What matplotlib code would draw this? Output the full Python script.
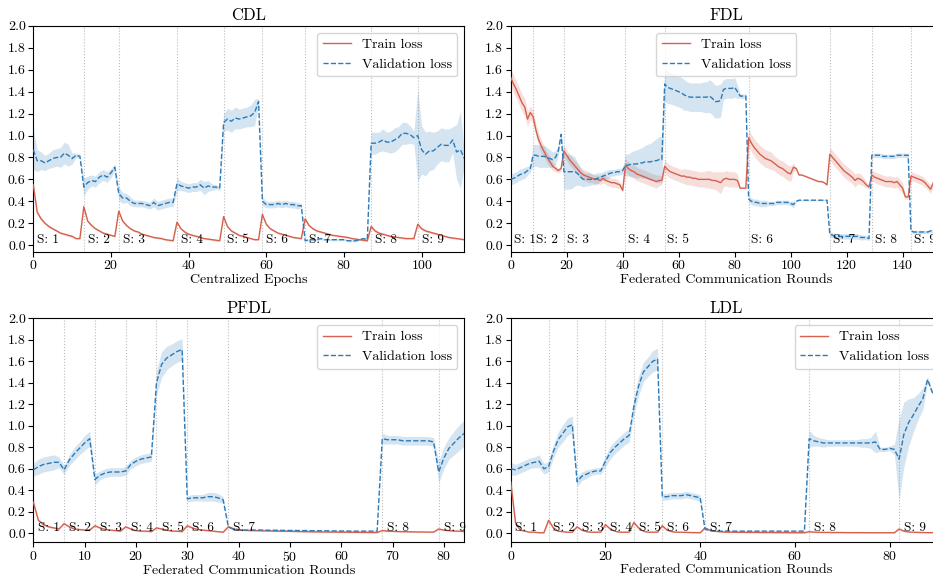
import numpy as np
import matplotlib
matplotlib.use("Agg")
import matplotlib.pyplot as plt

plt.rcParams['font.family'] = 'cmr10'
plt.rcParams['mathtext.fontset'] = 'cm'
plt.rcParams['axes.formatter.use_mathtext'] = True

TRAIN_C = '#d6604d'
VAL_C = '#2b7bba'

# ---------------- CDL ----------------
cdl_stages = [0, 13, 22, 37, 49, 59, 70, 87, 99]
cdl_train = [
    0.55, 0.30, 0.24, 0.20, 0.17, 0.15, 0.13, 0.11, 0.10, 0.09, 0.08, 0.06, 0.06,
    0.35, 0.22, 0.18, 0.15, 0.13, 0.11, 0.10, 0.09, 0.08,
    0.31, 0.22, 0.18, 0.15, 0.13, 0.12, 0.10, 0.09, 0.08, 0.07, 0.065, 0.06, 0.05, 0.045, 0.04,
    0.21, 0.15, 0.12, 0.10, 0.09, 0.08, 0.07, 0.06, 0.055, 0.05, 0.045, 0.04,
    0.26, 0.17, 0.13, 0.11, 0.09, 0.08, 0.07, 0.06, 0.05, 0.05,
    0.28, 0.19, 0.15, 0.13, 0.11, 0.10, 0.09, 0.08, 0.07, 0.065, 0.06,
    0.24, 0.18, 0.15, 0.13, 0.12, 0.11, 0.10, 0.09, 0.085, 0.08, 0.075, 0.07, 0.06, 0.055, 0.05, 0.045, 0.04,
    0.17, 0.13, 0.11, 0.10, 0.09, 0.08, 0.075, 0.07, 0.065, 0.06, 0.06, 0.06,
    0.19, 0.15, 0.13, 0.12, 0.11, 0.10, 0.09, 0.08, 0.07, 0.065, 0.06, 0.055, 0.05,
]
cdl_train_sd = [
    0.03, 0.02, 0.015, 0.01, 0.01, 0.01, 0.01, 0.01, 0.01, 0.01, 0.01, 0.008, 0.008,
    0.02, 0.015, 0.01, 0.01, 0.01, 0.01, 0.01, 0.008, 0.008,
    0.02, 0.015, 0.01, 0.01, 0.01, 0.01, 0.01, 0.01, 0.008, 0.008, 0.008, 0.008, 0.008, 0.008, 0.008,
    0.015, 0.01, 0.01, 0.01, 0.01, 0.008, 0.008, 0.008, 0.008, 0.008, 0.008, 0.008,
    0.015, 0.01, 0.01, 0.01, 0.008, 0.008, 0.008, 0.008, 0.008, 0.008,
    0.015, 0.012, 0.01, 0.01, 0.01, 0.01, 0.008, 0.008, 0.008, 0.008, 0.008,
    0.015, 0.012, 0.01, 0.01, 0.01, 0.01, 0.01, 0.008, 0.008, 0.008, 0.008, 0.008, 0.008, 0.008, 0.008, 0.008, 0.008,
    0.02, 0.015, 0.012, 0.01, 0.01, 0.01, 0.01, 0.008, 0.008, 0.008, 0.008, 0.008,
    0.02, 0.015, 0.012, 0.01, 0.01, 0.01, 0.01, 0.008, 0.008, 0.008, 0.008, 0.008, 0.008,
]
cdl_val = [
    0.87, 0.77, 0.77, 0.75, 0.77, 0.79, 0.80, 0.80, 0.84, 0.82, 0.79, 0.82, 0.81,
    0.53, 0.57, 0.59, 0.58, 0.62, 0.64, 0.62, 0.66, 0.71,
    0.47, 0.43, 0.43, 0.40, 0.38, 0.38, 0.38, 0.37, 0.36, 0.39, 0.36, 0.37, 0.38, 0.39, 0.39,
    0.56, 0.54, 0.53, 0.52, 0.53, 0.53, 0.55, 0.52, 0.54, 0.53, 0.53, 0.52,
    1.12, 1.15, 1.13, 1.16, 1.15, 1.16, 1.17, 1.18, 1.21, 1.31,
    0.40, 0.37, 0.37, 0.37, 0.38, 0.37, 0.38, 0.37, 0.37, 0.36, 0.36,
    0.04, 0.05, 0.05, 0.05, 0.06, 0.05, 0.05, 0.05, 0.05, 0.05, 0.05, 0.04, 0.04, 0.04, 0.05, 0.06, 0.05,
    0.93, 0.93, 0.94, 0.96, 0.94, 0.94, 0.96, 0.98, 1.02, 1.02, 1.01, 0.98,
    1.00, 0.87, 0.83, 0.86, 0.86, 0.89, 0.92, 0.91, 0.91, 0.96, 0.85, 0.87, 0.79,
]
cdl_val_sd = [
    0.18, 0.10, 0.08, 0.07, 0.07, 0.08, 0.08, 0.09, 0.10, 0.10, 0.05, 0.02, 0.02,
    0.08, 0.06, 0.05, 0.05, 0.05, 0.05, 0.05, 0.04, 0.03,
    0.06, 0.05, 0.04, 0.04, 0.03, 0.03, 0.03, 0.03, 0.03, 0.04, 0.04, 0.04, 0.04, 0.04, 0.04,
    0.06, 0.04, 0.04, 0.04, 0.04, 0.04, 0.05, 0.06, 0.05, 0.03, 0.02, 0.02,
    0.08, 0.10, 0.10, 0.10, 0.09, 0.09, 0.09, 0.10, 0.12, 0.03,
    0.04, 0.03, 0.03, 0.03, 0.03, 0.03, 0.03, 0.03, 0.03, 0.03, 0.02,
    0.01, 0.01, 0.01, 0.01, 0.01, 0.01, 0.01, 0.01, 0.01, 0.01, 0.01, 0.01, 0.01, 0.01, 0.01, 0.01, 0.01,
    0.10, 0.10, 0.09, 0.10, 0.09, 0.10, 0.11, 0.10, 0.10, 0.10, 0.08, 0.06,
    0.42, 0.22, 0.20, 0.18, 0.17, 0.15, 0.15, 0.15, 0.15, 0.12, 0.25, 0.35, 0.05,
]

# ---------------- FDL ----------------
fdl_stages = [0, 8, 19, 41, 55, 85, 114, 129, 143]
fdl_train = [
    1.53, 1.47, 1.42, 1.36, 1.30, 1.26, 1.15, 1.21,
    1.17, 1.05, 0.96, 0.90, 0.85, 0.80, 0.76, 0.72, 0.70, 0.68, 0.70,
    0.86, 0.82, 0.78, 0.75, 0.72, 0.69, 0.66, 0.64, 0.63, 0.62, 0.61, 0.60, 0.60, 0.59, 0.61, 0.59,
    0.58, 0.57, 0.57, 0.56, 0.55, 0.50,
    0.73, 0.70, 0.68, 0.67, 0.65, 0.64, 0.63, 0.62, 0.61, 0.60, 0.59, 0.58, 0.59, 0.59,
    0.72, 0.69, 0.67, 0.66, 0.65, 0.64, 0.63, 0.63, 0.62, 0.62, 0.61, 0.61, 0.60, 0.60, 0.60,
    0.60, 0.60, 0.59, 0.59, 0.58, 0.57, 0.60, 0.61, 0.60, 0.60, 0.60, 0.59, 0.52, 0.52, 0.52,
    0.98, 0.93, 0.89, 0.86, 0.83, 0.81, 0.79, 0.78, 0.77, 0.75, 0.73, 0.71, 0.70, 0.68, 0.66,
    0.65, 0.71, 0.70, 0.64, 0.64, 0.63, 0.62, 0.61, 0.60, 0.59, 0.58, 0.58, 0.57, 0.55,
    0.83, 0.80, 0.77, 0.74, 0.71, 0.68, 0.66, 0.64, 0.62, 0.59, 0.61, 0.60, 0.58, 0.55, 0.53,
    0.64, 0.62, 0.61, 0.60, 0.59, 0.58, 0.58, 0.58, 0.57, 0.58, 0.55, 0.52, 0.44, 0.44,
    0.63, 0.62, 0.61, 0.60, 0.59, 0.57, 0.54, 0.51, 0.57, 0.60, 0.61, 0.62,
]
fdl_train_sd = [
    0.08, 0.08, 0.08, 0.08, 0.08, 0.08, 0.07, 0.06,
    0.06, 0.06, 0.06, 0.06, 0.05, 0.05, 0.05, 0.04, 0.03, 0.02, 0.02,
    0.05, 0.05, 0.05, 0.05, 0.05, 0.05, 0.05, 0.05, 0.05, 0.05, 0.04, 0.04, 0.04, 0.04, 0.04, 0.04,
    0.04, 0.04, 0.04, 0.04, 0.03, 0.02,
    0.06, 0.06, 0.06, 0.06, 0.06, 0.06, 0.06, 0.06, 0.06, 0.06, 0.06, 0.06, 0.05, 0.04,
    0.06, 0.06, 0.06, 0.06, 0.06, 0.06, 0.06, 0.07, 0.07, 0.07, 0.07, 0.07, 0.07, 0.07, 0.07,
    0.08, 0.08, 0.08, 0.08, 0.09, 0.10, 0.07, 0.07, 0.07, 0.07, 0.07, 0.06, 0.005, 0.005, 0.005,
    0.08, 0.08, 0.08, 0.08, 0.08, 0.08, 0.08, 0.08, 0.08, 0.07, 0.07, 0.07, 0.07, 0.07, 0.07,
    0.07, 0.04, 0.005, 0.005, 0.005, 0.005, 0.005, 0.005, 0.005, 0.005, 0.005, 0.005, 0.005, 0.005,
    0.06, 0.06, 0.06, 0.06, 0.06, 0.06, 0.06, 0.06, 0.06, 0.06, 0.05, 0.05, 0.04, 0.03, 0.02,
    0.05, 0.05, 0.05, 0.05, 0.05, 0.05, 0.05, 0.05, 0.05, 0.05, 0.05, 0.05, 0.02, 0.02,
    0.04, 0.04, 0.04, 0.04, 0.04, 0.04, 0.04, 0.04, 0.04, 0.04, 0.04, 0.04,
]
fdl_val = [
    0.60, 0.61, 0.62, 0.64, 0.65, 0.66, 0.68, 0.70,
    0.82, 0.82, 0.81, 0.81, 0.81, 0.80, 0.79, 0.78, 0.80, 0.86, 1.01,
    0.67, 0.67, 0.67, 0.67, 0.67, 0.65, 0.62, 0.60, 0.60, 0.60, 0.60, 0.60, 0.61, 0.62, 0.63, 0.64,
    0.65, 0.66, 0.66, 0.67, 0.67, 0.68,
    0.73, 0.73, 0.74, 0.74, 0.74, 0.75, 0.75, 0.76, 0.76, 0.76, 0.77, 0.77, 0.78, 0.78,
    1.47, 1.44, 1.43, 1.42, 1.41, 1.40, 1.39, 1.37, 1.36, 1.35, 1.35, 1.35, 1.35, 1.35, 1.35,
    1.35, 1.36, 1.34, 1.31, 1.31, 1.32, 1.42, 1.43, 1.43, 1.43, 1.44, 1.40, 1.36, 1.36, 1.36,
    0.42, 0.40, 0.39, 0.39, 0.38, 0.38, 0.38, 0.38, 0.38, 0.38, 0.39, 0.39, 0.39, 0.39, 0.39,
    0.38, 0.37, 0.40, 0.41, 0.41, 0.41, 0.41, 0.41, 0.41, 0.41, 0.41, 0.41, 0.41, 0.41,
    0.10, 0.09, 0.08, 0.08, 0.08, 0.08, 0.08, 0.08, 0.08, 0.08, 0.08, 0.07, 0.07, 0.07, 0.06,
    0.82, 0.82, 0.82, 0.82, 0.81, 0.81, 0.81, 0.81, 0.81, 0.82, 0.82, 0.82, 0.82, 0.82,
    0.13, 0.12, 0.12, 0.12, 0.12, 0.12, 0.12, 0.13, 0.13, 0.14, 0.14, 0.14,
]
fdl_val_sd = [
    0.05, 0.05, 0.05, 0.05, 0.05, 0.05, 0.04, 0.03,
    0.10, 0.10, 0.10, 0.10, 0.10, 0.09, 0.08, 0.07, 0.06, 0.04, 0.02,
    0.16, 0.16, 0.16, 0.15, 0.13, 0.10, 0.08, 0.07, 0.06, 0.06, 0.05, 0.05, 0.05, 0.04, 0.04, 0.04,
    0.04, 0.03, 0.03, 0.03, 0.03, 0.03,
    0.10, 0.10, 0.11, 0.12, 0.13, 0.13, 0.14, 0.15, 0.16, 0.17, 0.18, 0.20, 0.21, 0.21,
    0.15, 0.15, 0.14, 0.14, 0.14, 0.14, 0.14, 0.14, 0.13, 0.13, 0.13, 0.13, 0.13, 0.13, 0.14,
    0.14, 0.15, 0.15, 0.15, 0.15, 0.15, 0.09, 0.09, 0.09, 0.09, 0.09, 0.06, 0.02, 0.02, 0.02,
    0.03, 0.03, 0.03, 0.03, 0.03, 0.03, 0.03, 0.02, 0.02, 0.02, 0.02, 0.02, 0.02, 0.02, 0.02,
    0.02, 0.03, 0.005, 0.005, 0.005, 0.005, 0.005, 0.005, 0.005, 0.005, 0.005, 0.005, 0.005, 0.005,
    0.025, 0.025, 0.025, 0.025, 0.025, 0.025, 0.025, 0.025, 0.025, 0.025, 0.025, 0.025, 0.02, 0.02, 0.02,
    0.02, 0.02, 0.02, 0.02, 0.02, 0.02, 0.02, 0.02, 0.02, 0.02, 0.02, 0.02, 0.02, 0.02,
    0.015, 0.015, 0.015, 0.015, 0.015, 0.015, 0.015, 0.015, 0.015, 0.015, 0.015, 0.015,
]

# ---------------- PFDL ----------------
pfdl_stages = [0, 6, 12, 18, 24, 30, 38, 68, 79]
pfdl_train = [
    0.29, 0.12, 0.08, 0.06, 0.05, 0.04,
    0.09, 0.06, 0.04, 0.035, 0.03, 0.03,
    0.07, 0.05, 0.035, 0.03, 0.025, 0.02,
    0.06, 0.04, 0.025, 0.02, 0.02, 0.015,
    0.05, 0.04, 0.03, 0.02, 0.02, 0.015,
    0.07, 0.05, 0.035, 0.03, 0.025, 0.02, 0.015, 0.01,
    0.06, 0.04, 0.03, 0.028, 0.026, 0.025, 0.024, 0.022, 0.022, 0.02, 0.02, 0.019, 0.018, 0.017, 0.016,
    0.015, 0.014, 0.013, 0.012, 0.012, 0.011, 0.011, 0.01, 0.01, 0.009, 0.009, 0.008, 0.008, 0.007, 0.007,
    0.025, 0.02, 0.018, 0.016, 0.015, 0.014, 0.013, 0.012, 0.012, 0.011, 0.011,
    0.04, 0.03, 0.025, 0.02, 0.02, 0.015,
]
pfdl_train_sd = [
    0.03, 0.015, 0.01, 0.01, 0.01, 0.01,
    0.01, 0.01, 0.008, 0.008, 0.008, 0.008,
    0.01, 0.008, 0.008, 0.006, 0.006, 0.006,
    0.01, 0.008, 0.006, 0.006, 0.006, 0.006,
    0.01, 0.008, 0.006, 0.006, 0.006, 0.006,
    0.01, 0.008, 0.006, 0.006, 0.006, 0.006, 0.005, 0.005,
    0.01, 0.008, 0.006, 0.005, 0.005, 0.005, 0.005, 0.005, 0.005, 0.005, 0.005, 0.005, 0.005, 0.005, 0.005,
    0.005, 0.005, 0.005, 0.005, 0.005, 0.005, 0.005, 0.005, 0.005, 0.005, 0.005, 0.005, 0.005, 0.005, 0.005,
    0.008, 0.006, 0.005, 0.005, 0.005, 0.005, 0.005, 0.005, 0.005, 0.005, 0.005,
    0.01, 0.008, 0.006, 0.005, 0.005, 0.005,
]
pfdl_val = [
    0.59, 0.62, 0.64, 0.65, 0.66, 0.66,
    0.59, 0.68, 0.74, 0.79, 0.84, 0.88,
    0.50, 0.54, 0.56, 0.57, 0.57, 0.57,
    0.58, 0.64, 0.67, 0.69, 0.70, 0.71,
    1.40, 1.57, 1.63, 1.66, 1.69, 1.71,
    0.32, 0.33, 0.33, 0.33, 0.34, 0.34, 0.33, 0.31,
    0.06, 0.04, 0.035, 0.03, 0.03, 0.03, 0.03, 0.03, 0.028, 0.028, 0.027, 0.027, 0.026, 0.026, 0.025,
    0.025, 0.024, 0.024, 0.023, 0.023, 0.022, 0.022, 0.021, 0.021, 0.02, 0.02, 0.02, 0.02, 0.02, 0.02,
    0.88, 0.87, 0.87, 0.87, 0.86, 0.86, 0.86, 0.86, 0.86, 0.86, 0.85,
    0.57, 0.70, 0.79, 0.84, 0.89, 0.93,
]
pfdl_val_sd = [
    0.06, 0.07, 0.07, 0.07, 0.07, 0.05,
    0.04, 0.05, 0.06, 0.06, 0.07, 0.07,
    0.05, 0.04, 0.04, 0.04, 0.04, 0.04,
    0.04, 0.04, 0.04, 0.04, 0.04, 0.04,
    0.12, 0.12, 0.11, 0.10, 0.10, 0.10,
    0.03, 0.03, 0.03, 0.03, 0.04, 0.04, 0.04, 0.03,
    0.01, 0.008, 0.006, 0.005, 0.005, 0.005, 0.005, 0.005, 0.005, 0.005, 0.005, 0.005, 0.005, 0.005, 0.005,
    0.005, 0.005, 0.005, 0.005, 0.005, 0.005, 0.005, 0.005, 0.005, 0.005, 0.005, 0.005, 0.005, 0.005, 0.005,
    0.05, 0.04, 0.04, 0.04, 0.04, 0.04, 0.04, 0.04, 0.04, 0.04, 0.04,
    0.10, 0.10, 0.10, 0.11, 0.12, 0.12,
]

# ---------------- LDL ----------------
ldl_stages = [0, 8, 14, 20, 26, 32, 41, 63, 82]
ldl_train = [
    0.48, 0.10, 0.03, 0.02, 0.01, 0.01, 0.005, 0.005,
    0.12, 0.05, 0.02, 0.015, 0.01, 0.01,
    0.06, 0.03, 0.015, 0.01, 0.01, 0.01,
    0.08, 0.04, 0.02, 0.01, 0.01, 0.01,
    0.10, 0.05, 0.02, 0.01, 0.01, 0.01,
    0.07, 0.03, 0.015, 0.01, 0.01, 0.008, 0.007, 0.006, 0.005,
    0.05, 0.03, 0.02, 0.015, 0.012, 0.01, 0.01, 0.009, 0.009, 0.008, 0.008,
    0.008, 0.007, 0.007, 0.007, 0.006, 0.006, 0.006, 0.005, 0.005, 0.005, 0.005,
    0.015, 0.01, 0.009, 0.008, 0.008, 0.007, 0.007, 0.007, 0.006, 0.006,
    0.006, 0.006, 0.005, 0.005, 0.005, 0.005, 0.005, 0.005, 0.005,
    0.04, 0.02, 0.012, 0.01, 0.008, 0.007, 0.006, 0.006, 0.005, 0.005,
]
ldl_train_sd = [
    0.06, 0.03, 0.01, 0.005, 0.005, 0.005, 0.004, 0.004,
    0.02, 0.01, 0.006, 0.005, 0.004, 0.004,
    0.01, 0.006, 0.005, 0.004, 0.004, 0.004,
    0.015, 0.008, 0.005, 0.004, 0.004, 0.004,
    0.015, 0.008, 0.005, 0.004, 0.004, 0.004,
    0.012, 0.006, 0.005, 0.004, 0.004, 0.004, 0.004, 0.004, 0.004,
    0.01, 0.006, 0.005, 0.004, 0.004, 0.004, 0.004, 0.004, 0.004, 0.004, 0.004,
    0.004, 0.004, 0.004, 0.004, 0.004, 0.004, 0.004, 0.004, 0.004, 0.004, 0.004,
    0.004, 0.004, 0.004, 0.004, 0.004, 0.004, 0.004, 0.004, 0.004, 0.004,
    0.004, 0.004, 0.004, 0.004, 0.004, 0.004, 0.004, 0.004, 0.004,
    0.01, 0.006, 0.004, 0.004, 0.004, 0.004, 0.004, 0.004, 0.004, 0.004,
]
ldl_val = [
    0.60, 0.59, 0.61, 0.63, 0.65, 0.66, 0.67, 0.60,
    0.62, 0.76, 0.87, 0.93, 0.99, 1.01,
    0.48, 0.53, 0.55, 0.57, 0.58, 0.58,
    0.67, 0.75, 0.80, 0.84, 0.88, 0.91,
    1.18, 1.37, 1.50, 1.55, 1.60, 1.62,
    0.34, 0.34, 0.35, 0.35, 0.35, 0.36, 0.35, 0.34, 0.33,
    0.04, 0.025, 0.02, 0.02, 0.02, 0.02, 0.02, 0.02, 0.02, 0.02, 0.02,
    0.02, 0.02, 0.02, 0.02, 0.02, 0.02, 0.02, 0.02, 0.02, 0.02, 0.02,
    0.88, 0.86, 0.85, 0.84, 0.84, 0.84, 0.84, 0.84, 0.84, 0.84,
    0.84, 0.84, 0.84, 0.84, 0.85, 0.78, 0.78, 0.79, 0.78,
    0.69, 0.92, 1.03, 1.10, 1.18, 1.25, 1.43, 1.31, 1.30, 1.30,
]
ldl_val_sd = [
    0.06, 0.05, 0.05, 0.05, 0.05, 0.05, 0.06, 0.05,
    0.05, 0.06, 0.07, 0.08, 0.08, 0.08,
    0.05, 0.04, 0.04, 0.03, 0.03, 0.03,
    0.05, 0.06, 0.06, 0.06, 0.06, 0.06,
    0.08, 0.09, 0.09, 0.09, 0.10, 0.10,
    0.03, 0.03, 0.03, 0.03, 0.03, 0.03, 0.03, 0.03, 0.03,
    0.01, 0.005, 0.005, 0.005, 0.005, 0.005, 0.005, 0.005, 0.005, 0.005, 0.005,
    0.005, 0.005, 0.005, 0.005, 0.005, 0.005, 0.005, 0.005, 0.005, 0.005, 0.005,
    0.08, 0.05, 0.04, 0.04, 0.03, 0.03, 0.03, 0.03, 0.03, 0.03,
    0.03, 0.04, 0.04, 0.05, 0.10, 0.02, 0.02, 0.02, 0.05,
    0.38, 0.30, 0.22, 0.16, 0.12, 0.10, 0.03, 0.02, 0.02, 0.02,
]

panels = [
    ('CDL', 'Centralized Epochs', cdl_stages, cdl_train, cdl_train_sd, cdl_val, cdl_val_sd,
     [0, 20, 40, 60, 80, 100], 'upper right', [0.0357, 0.563, 0.462, 0.392], -0.06),
    ('FDL', 'Federated Communication Rounds', fdl_stages, fdl_train, fdl_train_sd, fdl_val, fdl_val_sd,
     [0, 20, 40, 60, 80, 100, 120, 140], 'upper center', [0.5474, 0.563, 0.462, 0.392], -0.06),
    ('PFDL', 'Federated Communication Rounds', pfdl_stages, pfdl_train, pfdl_train_sd, pfdl_val, pfdl_val_sd,
     [0, 10, 20, 30, 40, 50, 60, 70, 80], 'upper right', [0.0357, 0.0585, 0.462, 0.389], -0.084),
    ('LDL', 'Federated Communication Rounds', ldl_stages, ldl_train, ldl_train_sd, ldl_val, ldl_val_sd,
     [0, 20, 40, 60, 80], 'upper right', [0.5474, 0.0585, 0.462, 0.389], -0.084),
]

fig = plt.figure(figsize=(9.33, 5.76), dpi=100)

for title, xlabel, stages, train, train_sd, val, val_sd, xticks, loc, rect, ymin in panels:
    ax = fig.add_axes(rect)
    x = np.arange(len(train))
    tr = np.array(train)
    trs = np.array(train_sd)
    va = np.array(val)
    vas = np.array(val_sd)

    for s in stages[1:]:
        ax.axvline(s, color='#bbbbbb', linestyle=':', linewidth=0.8, zorder=1)

    ax.fill_between(x, tr - trs, tr + trs, color=TRAIN_C, alpha=0.2, linewidth=0, zorder=2)
    ax.fill_between(x, va - vas, va + vas, color=VAL_C, alpha=0.2, linewidth=0, zorder=2)
    ax.plot(x, tr, color=TRAIN_C, linewidth=1.0, label='Train loss', zorder=3)
    ax.plot(x, va, color=VAL_C, linewidth=1.0, linestyle='--', label='Validation loss', zorder=3)

    for i, s in enumerate(stages):
        ax.text(s + 1, 0.02, 'S: %d' % (i + 1), fontsize=9.5, va='baseline', ha='left', zorder=4)

    ax.set_xlim(0, len(train) - 1)
    ax.set_ylim(ymin, 2.0)
    ax.set_yticks(np.arange(0, 2.01, 0.2))
    ax.set_yticklabels(['%.1f' % v for v in np.arange(0, 2.01, 0.2)])
    ax.set_xticks(xticks)
    ax.tick_params(labelsize=10, length=3.5, pad=2)
    ax.set_title(title, fontsize=12, pad=4)
    ax.set_xlabel(xlabel, fontsize=10, labelpad=1)
    ax.legend(loc=loc, fontsize=10)

fig.savefig('out.png', dpi=100)
